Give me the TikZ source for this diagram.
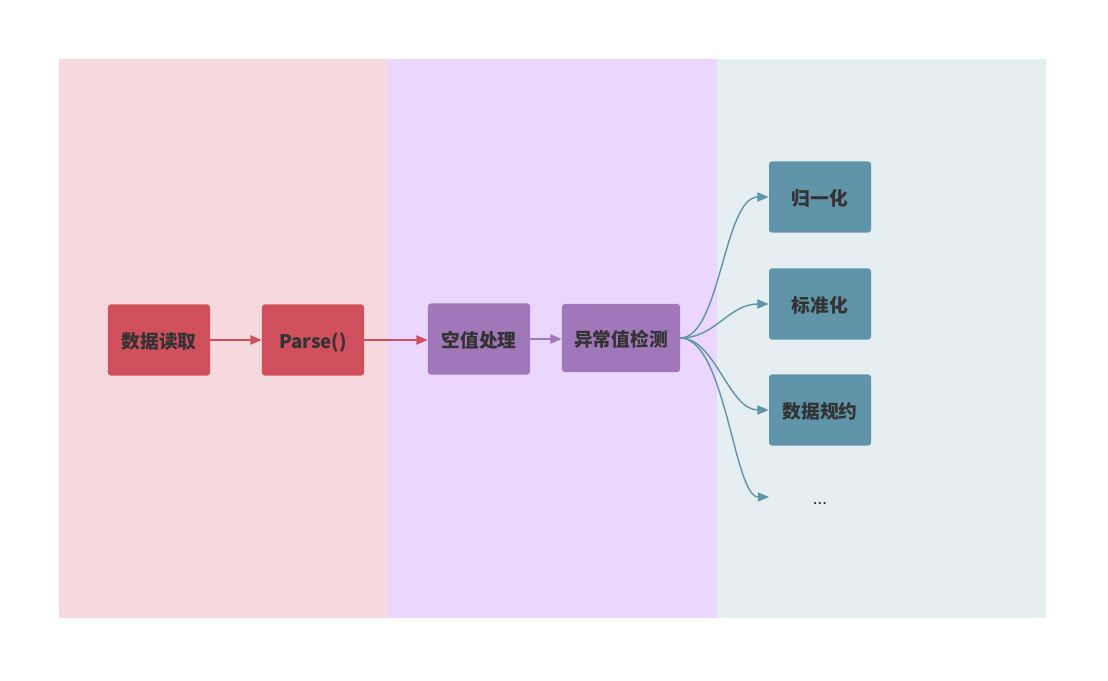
\documentclass[tikz,border=0pt]{standalone}
\usepackage{fontspec}
\newfontfamily\cjk{Noto Sans CJK SC}
\usepackage{xcolor}
\usetikzlibrary{positioning,arrows.meta}

\definecolor{bgread}{HTML}{F5D9DC}
\definecolor{bgclean}{HTML}{EBD6FE}
\definecolor{bgscale}{HTML}{E5EEF1}
\definecolor{boxread}{HTML}{D0505D}
\definecolor{boxclean}{HTML}{A078B9}
\definecolor{boxscale}{HTML}{6094A8}
\definecolor{labeltext}{HTML}{333333}

\begin{document}
\begin{tikzpicture}[x=0.025cm, y=-0.025cm,
  box/.style={rounded corners=2pt, minimum width=2.55cm, minimum height=1.775cm,
    inner sep=0pt, text height=11.5pt, text depth=0pt, text=labeltext,
    font=\cjk\bfseries\fontsize{13.3}{15}\selectfont},
  flow/.style={-{Triangle[length=8pt, width=6.5pt]}, line width=1pt}]
  \useasboundingbox (0,0) rectangle (1108,681);

  % Stage panels
  \fill[bgread] (59,59) rectangle (387,618);
  \fill[bgclean] (387,59) rectangle (717,618);
  \fill[bgscale] (717,59) rectangle (1046,618);

  % Reading
  \node[box, fill=boxread] (read) at (159,340) {数据读取};
  \node[box, fill=boxread] (parse) at (313,340) {Parse()};

  % Cleaning
  \node[box, fill=boxclean] (nullval) at (479,339) {空值处理};
  \node[box, fill=boxclean, minimum width=2.95cm, minimum height=1.7cm] (outlier) at (621,338) {异常值检测};

  % Scaling
  \node[box, fill=boxscale] (norm) at (820,197) {归一化};
  \node[box, fill=boxscale] (std) at (820,304) {标准化};
  \node[box, fill=boxscale] (reduce) at (820,410) {数据规约};
  \node[font=\cjk\fontsize{12}{14}\selectfont, text=labeltext] (more) at (820,504) {...};
  \coordinate (moreend) at (769,497);

  % Straight links
  \draw[flow, boxread] (read) -- (parse);
  \draw[flow, boxread] (parse) -- (nullval.west |- parse);
  \draw[flow, boxclean] (nullval) -- (outlier.west |- nullval);

  % Fan out
  \draw[flow, boxscale] (outlier.east) .. controls +(40,0) and +(-45,0) .. (norm.west);
  \draw[flow, boxscale] (outlier.east) .. controls +(35,0) and +(-40,0) .. (std.west);
  \draw[flow, boxscale] (outlier.east) .. controls +(35,0) and +(-40,0) .. (reduce.west);
  \draw[flow, boxscale] (outlier.east) .. controls +(45,0) and +(-35,0) .. (moreend);
\end{tikzpicture}
\end{document}
